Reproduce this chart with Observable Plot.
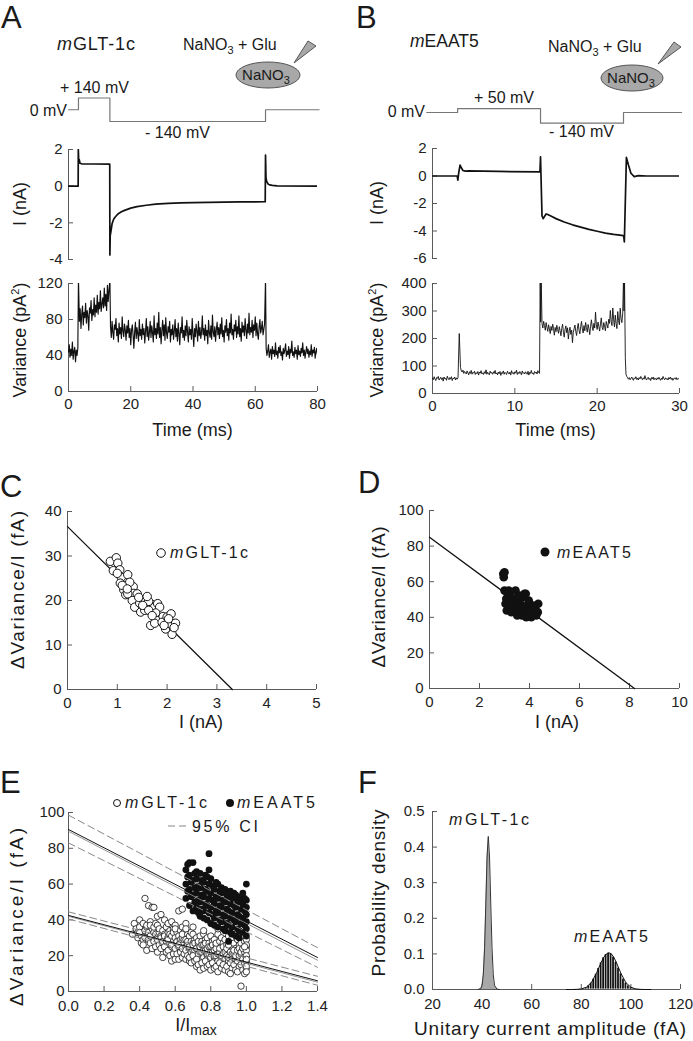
<!DOCTYPE html>
<html><head><meta charset="utf-8">
<script src="https://cdn.jsdelivr.net/npm/d3@7"></script>
<script src="https://cdn.jsdelivr.net/npm/@observablehq/plot@0.6"></script>
<style>
html,body{margin:0;padding:0;background:#fff;}
#fig{position:relative;width:693px;height:1041px;overflow:hidden;background:#fff;font-family:"Liberation Sans",Arial,Helvetica,sans-serif;}
#fig svg{position:absolute;}
</style></head><body><div id="fig"></div>
<script>
// ---------------- DATA ----------------
// Panel A: voltage protocol (ms, mV)
const aVoltT = [0, 3.2, 13.3, 63.3, 80.5];
const aVoltV = [0, 140, -140, 0, 0];
// Panel A: current trace (ms, nA)
const aCurT = [0, 3.1, 3.15, 3.3, 3.45, 3.7, 4.2, 8, 13.25, 13.3, 13.4, 13.6, 14, 14.5, 15, 16, 17, 18, 20, 22, 25, 28, 32, 36, 40, 45, 50, 55, 60, 63.2, 63.3, 63.45, 63.7, 64.1, 64.6, 65.5, 67, 80];
const aCurI = [0, 0, 2.0, 1.3, 1.45, 1.25, 1.22, 1.21, 1.2, -3.75, -2.7, -2.5, -2.05, -1.8, -1.68, -1.5, -1.4, -1.32, -1.2, -1.12, -1.04, -0.98, -0.94, -0.91, -0.9, -0.88, -0.87, -0.86, -0.86, -0.85, 1.7, 0.45, 0.25, 0.12, 0.07, 0.04, 0.02, 0];
// Panel A: variance trace (pA^2), segments sampled every 0.25 ms
const aVarDt = 0.25;
const aVarStart = [0, 3.5, 13.5, 63.5];
const aVar0 = [44, 52, 38, 47, 41, 55, 36, 45, 49, 33, 46, 40, 48];
const aVar1 = [78, 92, 70, 86, 95, 74, 88, 82, 98, 76, 90, 84, 68, 93, 87, 101, 79, 91, 85, 104, 83, 96, 88, 107, 86, 99, 92, 112, 89, 97, 104, 93, 115, 95, 108, 90, 118, 100, 112];
const aVar2 = [72, 60, 78, 66, 58, 74, 69, 81, 62, 70, 55, 76, 64, 71, 59, 83, 67, 61, 75, 68,
  57, 73, 65, 79, 60, 70, 52, 68, 74, 63, 48, 66, 77, 59, 71, 64, 56, 80, 62, 69,
  58, 75, 63, 70, 54, 67, 81, 61, 72, 57, 66, 78, 60, 73, 65, 55, 84, 63, 70, 59,
  76, 64, 88, 60, 71, 53, 68, 79, 62, 74, 57, 82, 65, 59, 72, 66, 78, 55, 69, 63,
  74, 58, 67, 80, 61, 70, 56, 76, 64, 52, 71, 65, 83, 60, 68, 57, 73, 62, 79, 66,
  55, 72, 63, 69, 58, 81, 64, 50, 70, 61, 75, 67, 56, 78, 62, 71, 59, 66, 84, 63,
  70, 57, 74, 62, 68, 53, 79, 65, 60, 73, 58, 85, 66, 61, 72, 56, 69, 77, 63, 71,
  59, 75, 64, 82, 61, 68, 55, 73, 66, 80, 62, 70, 57, 76, 65, 86, 63, 69, 58, 74,
  67, 79, 60, 72, 64, 84, 61, 70, 56, 77, 66, 73, 62, 81, 68, 59, 75, 65, 87, 63,
  71, 66, 79, 60, 74, 68, 83, 62, 76, 64, 58, 72, 80, 65, 70, 78, 63, 69, 75];
const aVar3 = [48, 40, 45, 52, 38, 44, 47, 36, 50, 42, 46, 39, 54, 41, 45, 37, 49, 43, 51, 40,
  44, 35, 48, 42, 46, 53, 39, 45, 41, 50, 37, 47, 43, 56, 40, 44, 38, 49, 42, 46,
  36, 51, 41, 45, 39, 48, 43, 54, 40, 46, 37, 44, 50, 42, 47, 38, 45, 41, 52, 39,
  46, 43, 49, 37, 44, 48, 41];
const aVarSpikeT = [3.2, 13.3, 63.3];
const aVarSpikeV = [125, 125, 125];

// Panel B: voltage protocol
const bVoltT = [-0.7, 3.05, 13.12, 23.2, 30.25];
const bVoltV = [0, 50, -140, 0, 0];
// Panel B: current trace
const bCurT = [0, 3.0, 3.08, 3.2, 3.35, 3.5, 3.7, 4.0, 4.4, 8, 13.05, 13.12, 13.3, 13.45, 13.6, 13.8, 14.0, 14.5, 15, 16, 17, 18, 19, 20, 21, 22, 23, 23.22, 23.3, 23.55, 23.8, 24.1, 24.5, 25, 26, 30];
const bCurI = [0, 0, -0.3, 0.3, 0.8, 0.6, 0.4, 0.35, 0.37, 0.33, 0.3, 1.4, -2.9, -3.1, -2.95, -2.76, -2.8, -2.95, -3.1, -3.35, -3.55, -3.72, -3.88, -4.02, -4.15, -4.25, -4.32, -4.35, -4.8, 1.35, 0.8, 0.2, -0.05, 0.03, 0, 0];
// Panel B: variance trace, segments sampled every 0.1 ms
const bVarDt = 0.1;
const bVarStart = [0, 3.4, 13.3, 23.5];
const bVar0 = [56, 50, 61, 53, 47, 58, 55, 62, 49, 54, 59, 51, 57, 45, 60, 53, 56, 48, 63, 55, 50, 58, 52, 61, 47, 56, 54, 60, 49, 57, 52, 58];
const bVar1 = [95, 82, 78, 85, 73, 80, 76, 71, 82, 75, 68, 79, 73, 84, 70, 77, 74, 81, 69, 76,
  72, 80, 67, 78, 74, 83, 71, 75, 69, 79, 73, 86, 70, 77, 72, 68, 81, 74, 76, 70,
  79, 73, 84, 71, 75, 68, 78, 72, 80, 66, 76, 73, 82, 70, 77, 74, 69, 81, 75, 71,
  78, 67, 83, 73, 76, 70, 79, 74, 85, 69, 77, 72, 80, 75, 68, 82, 73, 76, 71, 79,
  74, 70, 81, 67, 77, 73, 84, 72, 75, 69, 80, 74, 78, 71, 83, 76, 73];
const bVar2 = [255, 238, 262, 247, 230, 258, 241, 226, 250, 235, 218, 244, 229, 252, 236, 212, 240, 225, 248, 232,
  219, 243, 228, 210, 237, 252, 223, 205, 233, 246, 221, 239, 198, 227, 241, 215, 230, 185, 222, 236,
  249, 226, 211, 238, 255, 230, 217, 244, 262, 235, 220, 247, 228, 258, 240, 223, 251, 236, 214, 245,
  268, 242, 229, 255, 238, 296, 250, 233, 260, 244, 227, 253, 275, 241, 232, 258, 246, 228, 262, 249,
  238, 270, 255, 302, 262, 247, 311, 268, 242, 285, 255, 236, 298, 265, 250, 310, 272, 258, 290];
const bVar3 = [70, 62, 57, 52, 58, 50, 55, 60, 53, 48, 57, 54, 61, 51, 56, 49, 58, 53, 62, 55,
  50, 57, 52, 65, 54, 49, 56, 59, 51, 55, 47, 58, 53, 60, 50, 56, 54, 49, 57, 52,
  59, 53, 48, 56, 51, 62, 54, 50, 57, 52, 55, 49, 58, 53, 60, 51, 56, 48, 54, 57,
  52, 58, 50, 55, 53, 56];
const bVarSpikeT = [3.25, 13.08, 13.14, 13.2, 23.2, 23.26, 23.32, 23.42];
const bVarSpikeV = [218, 420, 260, 420, 420, 300, 420, 130];

// Panel C: mGLT-1c, I (nA) vs dVariance/I (fA)
const cPoints = [[0.86,28.8],[0.98,29.6],[0.92,26.7],[1.01,28.4],[1.05,26.9],[1.08,25.2],[1.21,25.8],[1.06,23.9],[1.13,22.4],[1.17,21.3],
  [1.32,23.1],[1.33,21.6],[1.30,20.0],[1.40,21.5],[1.35,18.5],[1.45,19.4],[1.47,17.4],[1.57,20.0],[1.60,18.9],[1.55,17.8],
  [1.70,19.1],[1.63,19.8],[1.75,18.5],[1.81,19.3],[1.85,18.5],[1.77,17.2],[1.80,15.5],[1.67,14.4],[1.75,14.9],[1.92,16.4],
  [1.90,15.1],[2.00,16.3],[2.08,17.0],[1.97,13.6],[2.05,14.8],[2.10,12.4],[2.17,14.9],[2.14,13.9],[1.25,24.1],[1.21,21.5],
  [1.43,20.7],[1.51,18.9],[1.63,17.8],[1.00,26.1],[1.10,23.4],[1.20,22.6],[1.94,14.4],[2.03,15.9],[1.60,20.9],[1.70,16.6]];
const cFitI = [0, 3.31];
const cFitV = [36.6, 0];

// Panel D: mEAAT5
const dPoints = [[2.95,64.4],[2.97,62.5],[3.00,65.3],[3.00,55.0],[3.07,50.4],[3.04,47.6],[3.09,43.8],[3.17,55.0],[3.13,51.3],[3.20,53.2],
  [3.33,47.6],[3.27,42.9],[3.37,50.4],[3.44,55.0],[3.51,49.4],[3.57,45.7],[3.47,42.9],[3.63,47.6],[3.76,51.3],[3.80,43.8],
  [3.70,41.0],[3.90,46.6],[3.97,49.4],[3.85,53.2],[4.11,42.0],[4.07,40.0],[4.20,44.8],[4.33,42.9],[4.35,47.6],[4.27,41.0],
  [3.80,53.2],[3.60,52.2],[3.17,46.6],[3.33,43.8],[3.51,41.0],[3.87,40.0],[4.00,42.9],[4.15,46.6],[3.47,46.6],[3.70,44.8]];
const dFitI = [0, 8.2];
const dFitV = [85, 0];

// Panel E: normalized data, I/Imax vs dVariance/I (fA)
const eGlt = [[0.36,32],[0.37,38],[0.38,35],[0.39,30],[0.39,33],
  [0.40,40],[0.40,36],[0.41,31],[0.41,27],[0.40,33],[0.42,29],
  [0.42,38],[0.43,34],[0.43,30],[0.42,26],[0.44,36],[0.43,52],
  [0.44,37],[0.45,33],[0.45,29],[0.44,23],[0.46,31],[0.45,48],
  [0.46,39],[0.47,35],[0.46,27],[0.47,24],[0.47,47],[0.48,33],[0.46,37],
  [0.48,36],[0.49,32],[0.48,28],[0.49,25],[0.48,47],[0.50,30],[0.49,38],
  [0.50,37],[0.51,33],[0.50,29],[0.51,26],[0.50,22],[0.52,31],[0.51,35],[0.50,42],
  [0.52,43],[0.53,34],[0.52,30],[0.53,27],[0.52,24],[0.53,19],[0.54,32],[0.53,28],
  [0.54,40],[0.55,36],[0.54,31],[0.55,28],[0.54,25],[0.55,22],[0.56,33],
  [0.56,38],[0.57,34],[0.56,30],[0.57,27],[0.56,23],[0.57,20],[0.58,17],[0.57,32],[0.56,29],
  [0.58,39],[0.59,35],[0.58,31],[0.59,28],[0.58,25],[0.59,21],[0.60,18],[0.59,33],[0.58,26],
  [0.60,37],[0.61,33],[0.60,30],[0.61,27],[0.60,24],[0.61,21],[0.62,18],[0.61,28],[0.60,35],
  [0.62,45],[0.63,34],[0.62,31],[0.63,28],[0.62,25],[0.63,22],[0.64,19],[0.63,29],[0.62,26],[0.64,36],
  [0.64,46],[0.65,33],[0.64,30],[0.65,27],[0.64,24],[0.65,21],[0.66,18],[0.65,29],[0.66,25],[0.64,32],
  [0.66,38],[0.67,32],[0.66,29],[0.67,26],[0.66,23],[0.67,20],[0.68,17],[0.67,28],[0.68,24],[0.66,35],
  [0.68,31],[0.69,28],[0.68,25],[0.69,22],[0.68,19],[0.69,16],[0.70,27],[0.69,33],[0.70,23],
  [0.70,32],[0.71,29],[0.70,26],[0.71,23],[0.70,20],[0.71,17],[0.72,14],[0.71,27],[0.72,24],[0.70,36],
  [0.72,30],[0.73,27],[0.72,24],[0.73,21],[0.72,18],[0.73,15],[0.74,12],[0.73,28],[0.74,25],[0.74,22],
  [0.74,31],[0.75,28],[0.74,25],[0.75,22],[0.76,19],[0.75,16],[0.76,13],[0.75,26],[0.76,23],
  [0.76,32],[0.77,29],[0.76,26],[0.77,23],[0.78,20],[0.77,17],[0.78,14],[0.77,27],[0.78,21],[0.76,34],
  [0.78,30],[0.79,27],[0.78,24],[0.79,21],[0.80,18],[0.79,15],[0.80,12],[0.79,25],[0.80,22],[0.80,19],
  [0.80,31],[0.81,28],[0.80,25],[0.81,22],[0.82,19],[0.81,16],[0.82,13],[0.81,26],[0.82,23],[0.82,20],
  [0.82,29],[0.83,26],[0.84,23],[0.83,20],[0.84,17],[0.83,14],[0.84,11],[0.83,24],[0.84,21],[0.83,27],
  [0.84,32],[0.85,28],[0.86,25],[0.85,22],[0.86,19],[0.85,16],[0.86,13],[0.85,24],[0.86,20],[0.84,35],
  [0.86,30],[0.87,27],[0.88,24],[0.87,21],[0.88,18],[0.87,15],[0.88,12],[0.87,25],[0.88,22],
  [0.88,29],[0.89,26],[0.90,23],[0.89,20],[0.90,17],[0.89,14],[0.90,11],[0.89,24],[0.90,19],
  [0.90,31],[0.91,28],[0.92,25],[0.91,22],[0.92,19],[0.91,16],[0.92,13],[0.91,10],[0.92,21],[0.90,26],
  [0.92,30],[0.93,27],[0.94,24],[0.93,21],[0.94,18],[0.93,15],[0.94,12],[0.93,23],[0.94,20],
  [0.94,32],[0.95,29],[0.96,26],[0.95,23],[0.96,20],[0.95,17],[0.96,14],[0.95,11],[0.96,24],
  [0.96,30],[0.97,27],[0.98,24],[0.97,21],[0.98,18],[0.97,15],[0.98,12],[0.97,22],[0.97,3],
  [0.98,31],[0.99,28],[1.00,25],[0.99,22],[1.00,19],[0.99,16],[1.00,13],[0.99,10],[0.98,24],
  [1.00,29],[1.00,26],[1.00,23],[1.00,20],[1.00,17],[1.00,14],[1.00,11],[0.99,25],[1.00,18]];
const eEaat = [[0.66,52],[0.67,56],[0.66,60],[0.67,64],[0.66,68],[0.67,71],[0.68,72],
  [0.68,48],[0.69,53],[0.68,57],[0.69,61],[0.68,65],[0.70,72],
  [0.70,45],[0.71,50],[0.70,54],[0.71,58],[0.70,62],[0.71,66],
  [0.72,47],[0.73,51],[0.72,55],[0.73,59],[0.72,63],[0.73,44],[0.72,67],
  [0.74,42],[0.75,46],[0.74,50],[0.75,54],[0.74,58],[0.75,62],[0.74,66],
  [0.76,45],[0.77,49],[0.76,53],[0.77,57],[0.76,61],[0.77,65],[0.76,41],
  [0.78,40],[0.79,44],[0.78,48],[0.79,52],[0.78,56],[0.79,60],[0.78,64],[0.79,68],
  [0.80,38],[0.81,43],[0.80,47],[0.81,51],[0.80,55],[0.81,59],[0.80,63],[0.79,77],
  [0.82,41],[0.83,45],[0.82,49],[0.83,53],[0.82,57],[0.83,61],[0.82,37],
  [0.84,36],[0.85,40],[0.84,44],[0.85,48],[0.84,52],[0.85,56],[0.84,60],
  [0.86,39],[0.87,43],[0.86,47],[0.87,51],[0.86,55],[0.87,35],[0.86,58],
  [0.88,34],[0.89,38],[0.88,42],[0.89,46],[0.88,50],[0.89,54],[0.88,57],
  [0.90,28],[0.91,33],[0.90,37],[0.91,41],[0.90,45],[0.91,49],[0.90,53],[0.91,56],
  [0.92,36],[0.93,40],[0.92,44],[0.93,48],[0.92,52],[0.93,55],[0.92,32],
  [0.94,31],[0.95,35],[0.94,39],[0.95,43],[0.94,47],[0.95,51],[0.94,54],
  [0.96,34],[0.97,38],[0.96,42],[0.97,46],[0.96,50],[0.97,53],[0.96,30],
  [0.98,33],[0.99,37],[0.98,41],[0.99,45],[0.98,49],[0.99,52],[0.98,55],
  [1.00,31],[1.00,35],[1.00,39],[1.00,43],[1.00,47],[1.00,51],[1.00,60]];
const eLineX = [0, 1.4];
const eEaatFit = [90.5, 19];
const eEaatFit2 = [89.5, 17.5];
const eEaatHi = [98.5, 24.5];
const eEaatLo = [83, 13.5];
const eGltFit = [42.5, 6];
const eGltFit2 = [42, 5.2];
const eGltHi = [44.5, 8.5];
const eGltLo = [40.5, 3.5];

// Panel F: probability density of unitary current amplitude (fA)
const fGltX = [38.5, 39.5, 40, 40.5, 41, 41.5, 42, 42.5, 43, 43.5, 44, 44.5, 45, 46, 47];
const fGltY = [0, 0.003, 0.012, 0.043, 0.117, 0.24, 0.372, 0.43, 0.372, 0.24, 0.117, 0.043, 0.012, 0.001, 0];
const fEaatBin = [79, 80, 81, 82, 83, 84, 85, 86, 87, 88, 89, 90, 91, 92, 93, 94, 95, 96, 97, 98, 99, 100, 101, 102, 103];
const fEaatHist = [0.001, 0.002, 0.003, 0.006, 0.011, 0.019, 0.030, 0.044, 0.060, 0.076, 0.090, 0.099, 0.103, 0.101, 0.092, 0.078, 0.061, 0.045, 0.030, 0.019, 0.011, 0.006, 0.003, 0.0015, 0.0007];
const fEaatCurveX = [74, 76, 78, 80, 82, 84, 86, 88, 89, 90, 91, 92, 93, 94, 96, 98, 100, 102, 104, 106, 108];
const fEaatCurveY = [0, 0, 0.0003, 0.0016, 0.0063, 0.019, 0.044, 0.076, 0.090, 0.099, 0.103, 0.101, 0.092, 0.078, 0.045, 0.019, 0.0063, 0.0016, 0.0003, 0, 0];

// Tick values
const aITicks = [-4, -2, 0, 2], aVarTicks = [0, 40, 80, 120], aTimeTicks = [0, 20, 40, 60, 80];
const bITicks = [-6, -4, -2, 0, 2], bVarTicks = [0, 100, 200, 300, 400], bTimeTicks = [0, 10, 20, 30];
const cXTicks = [0, 1, 2, 3, 4, 5], cYTicks = [0, 10, 20, 30, 40];
const dXTicks = [0, 2, 4, 6, 8, 10], dYTicks = [0, 20, 40, 60, 80, 100];
const eXTicks = [0, 0.2, 0.4, 0.6, 0.8, 1.0, 1.2, 1.4], eYTicks = [0, 20, 40, 60, 80, 100];
const fXTicks = [20, 40, 60, 80, 100, 120], fYTicks = [0, 0.1, 0.2, 0.3, 0.4, 0.5];

// ---------------- HELPERS ----------------
const fig = document.getElementById("fig");
const FONT = '"Liberation Sans", Arial, Helvetica, sans-serif';
const AX = "#5a5a5a";
const INK = "#111";
const zip = (xs, ys) => xs.map((x, i) => ({x, y: ys[i]}));
const pairs = (arr) => arr.map(([x, y]) => ({x, y}));
function trace(starts, dt, segs, spikeT, spikeV) {
  const pts = [];
  segs.forEach((seg, k) => seg.forEach((v, i) => pts.push({x: starts[k] + i * dt, y: v})));
  spikeT.forEach((t, i) => pts.push({x: t, y: spikeV[i]}));
  return pts.sort((a, b) => a.x - b.x);
}
const hy = (d) => String(d);

function panel(o) {
  const fw = o.width - o.ml - o.mr, fh = o.height - o.mt - o.mb;
  const axes = [];
  if (o.yTicks) {
    axes.push(Plot.ruleX([o.xDomain[0]], {stroke: AX, strokeWidth: 1}));
    axes.push(Plot.tickY(o.yTicks, {stroke: AX, insetRight: fw - 5}));
    axes.push(Plot.axisY({ticks: o.yTicks, tickSize: 0, tickPadding: o.yPad ?? 6, tickFormat: o.yFmt ?? hy, label: null, fontSize: 15}));
  }
  if (o.xTicks) {
    axes.push(Plot.ruleY([o.yDomain[0]], {stroke: AX, strokeWidth: 1}));
    axes.push(Plot.tickX(o.xTicks, {stroke: AX, insetTop: fh - 5}));
    axes.push(Plot.axisX({ticks: o.xTicks, tickSize: 0, tickPadding: o.xPad ?? 7, tickFormat: o.xFmt ?? hy, label: null, fontSize: 15}));
  }
  const svg = Plot.plot({
    width: o.width, height: o.height,
    marginTop: o.mt, marginRight: o.mr, marginBottom: o.mb, marginLeft: o.ml,
    x: {domain: o.xDomain, axis: null},
    y: {domain: o.yDomain, axis: null},
    style: {fontFamily: FONT, color: "#222", background: "transparent", overflow: "visible"},
    marks: [...axes, ...o.marks]
  });
  svg.style.left = o.left + "px";
  svg.style.top = o.top + "px";
  fig.append(svg);
}

// ---------------- PANEL A ----------------
panel({left: 0, top: 75, width: 330, height: 65, ml: 68, mr: 13, mt: 22.5, mb: 19,
  xDomain: [0, 80], yDomain: [-140, 140],
  marks: [Plot.line(zip(aVoltT, aVoltV), {x: "x", y: "y", curve: "step-after", stroke: "#777", strokeWidth: 1.2})]});
panel({left: 0, top: 135, width: 330, height: 130, ml: 68, mr: 13, mt: 14, mb: 6,
  xDomain: [0, 80], yDomain: [-4, 2], yTicks: aITicks,
  marks: [Plot.line(zip(aCurT, aCurI), {x: "x", y: "y", stroke: INK, strokeWidth: 1.7, clip: true})]});
panel({left: 0, top: 270, width: 330, height: 146, ml: 68, mr: 13, mt: 13, mb: 25,
  xDomain: [0, 80], yDomain: [0, 120], yTicks: aVarTicks, xTicks: aTimeTicks,
  marks: [Plot.line(trace(aVarStart, aVarDt, [aVar0, aVar1, aVar2, aVar3], aVarSpikeT, aVarSpikeV), {x: "x", y: "y", stroke: INK, strokeWidth: 1.15, clip: true})]});

// ---------------- PANEL B ----------------
panel({left: 346, top: 75, width: 347, height: 65, ml: 86, mr: 14, mt: 26.3, mb: 17.3,
  xDomain: [0, 30], yDomain: [-140, 140],
  marks: [Plot.line(zip(bVoltT, bVoltV), {x: "x", y: "y", curve: "step-after", stroke: "#777", strokeWidth: 1.2})]});
panel({left: 346, top: 135, width: 347, height: 130, ml: 86, mr: 14, mt: 13, mb: 7,
  xDomain: [0, 30], yDomain: [-6, 2], yTicks: bITicks,
  marks: [Plot.line(zip(bCurT, bCurI), {x: "x", y: "y", stroke: INK, strokeWidth: 1.7, clip: true})]});
panel({left: 346, top: 270, width: 347, height: 148, ml: 86, mr: 14, mt: 13, mb: 25,
  xDomain: [0, 30], yDomain: [0, 400], yTicks: bVarTicks, xTicks: bTimeTicks,
  marks: [Plot.line(trace(bVarStart, bVarDt, [bVar0, bVar1, bVar2, bVar3], bVarSpikeT, bVarSpikeV), {x: "x", y: "y", stroke: INK, strokeWidth: 0.9, clip: true})]});

// ---------------- PANEL C ----------------
panel({left: 0, top: 495, width: 330, height: 219, ml: 67, mr: 14, mt: 16, mb: 25, xPad: 8,
  xDomain: [0, 5], yDomain: [0, 40], xTicks: cXTicks, yTicks: cYTicks,
  marks: [
    Plot.line(zip(cFitI, cFitV), {x: "x", y: "y", stroke: INK, strokeWidth: 1.3}),
    Plot.dot(pairs(cPoints), {x: "x", y: "y", r: 4.2, fill: "white", stroke: INK, strokeWidth: 1})
  ]});

// ---------------- PANEL D ----------------
panel({left: 346, top: 495, width: 347, height: 218, ml: 83, mr: 14, mt: 15, mb: 25, xPad: 8,
  xDomain: [0, 10], yDomain: [0, 100], xTicks: dXTicks, yTicks: dYTicks,
  marks: [
    Plot.line(zip(dFitI, dFitV), {x: "x", y: "y", stroke: INK, strokeWidth: 1.3}),
    Plot.dot(pairs(dPoints), {x: "x", y: "y", r: 4.3, fill: INK})
  ]});

// ---------------- PANEL E ----------------
const dash = {stroke: "#888", strokeWidth: 1, strokeDasharray: "7,4"};
panel({left: 0, top: 780, width: 330, height: 236, ml: 68, mr: 13, mt: 32, mb: 25, xPad: 9,
  xDomain: [0, 1.4], yDomain: [0, 100], xTicks: eXTicks, yTicks: eYTicks, xFmt: d3.format(".1f"), yPad: 4,
  marks: [
    Plot.dot(pairs(eGlt), {x: "x", y: "y", r: 3.2, fill: "white", stroke: INK, strokeWidth: 0.8}),
    Plot.dot(pairs(eEaat), {x: "x", y: "y", r: 3.4, fill: INK}),
    Plot.line(zip(eLineX, eGltHi), {x: "x", y: "y", ...dash}),
    Plot.line(zip(eLineX, eGltLo), {x: "x", y: "y", ...dash}),
    Plot.line(zip(eLineX, eGltFit2), {x: "x", y: "y", stroke: "#888", strokeWidth: 0.9}),
    Plot.line(zip(eLineX, eGltFit), {x: "x", y: "y", stroke: INK, strokeWidth: 1}),
    Plot.line(zip(eLineX, eEaatHi), {x: "x", y: "y", ...dash}),
    Plot.line(zip(eLineX, eEaatLo), {x: "x", y: "y", ...dash}),
    Plot.line(zip(eLineX, eEaatFit2), {x: "x", y: "y", stroke: "#888", strokeWidth: 0.9}),
    Plot.line(zip(eLineX, eEaatFit), {x: "x", y: "y", stroke: INK, strokeWidth: 1})
  ]});

// ---------------- PANEL F ----------------
panel({left: 346, top: 780, width: 346, height: 234, ml: 86, mr: 12, mt: 31, mb: 25, xPad: 9,
  xDomain: [20, 120], yDomain: [0, 0.5], xTicks: fXTicks, yTicks: fYTicks, xFmt: d3.format(".0f"), yFmt: d3.format(".1f"), yPad: 8,
  marks: [
    Plot.areaY(zip(fGltX, fGltY), {x: "x", y: "y", fill: "#a8a8a8"}),
    Plot.line(zip(fGltX, fGltY), {x: "x", y: "y", stroke: "#333", strokeWidth: 1}),
    Plot.rectY(fEaatBin.map((c, i) => ({x1: c - 0.5, x2: c + 0.5, y: fEaatHist[i]})), {x1: "x1", x2: "x2", y: "y", fill: INK, inset: 0.35}),
    Plot.line(zip(fEaatCurveX, fEaatCurveY), {x: "x", y: "y", stroke: INK, strokeWidth: 1})
  ]});

// ---------------- ANNOTATIONS (text, legends, schematic) ----------------
const it = (s) => `<tspan font-style="italic">${s}</tspan>`;
const sub3 = `<tspan dy="4" font-size="11">3</tspan>`;
const vlab = (cx, cy, content, size, len) =>
  `<text transform="translate(${cx},${cy}) rotate(-90)" text-anchor="middle" dy="0.36em" font-size="${size}"${len ? ` textLength="${len}" lengthAdjust="spacing"` : ""}>${content}</text>`;
const varLab = `Variance (pA<tspan dy="-7" font-size="11">2</tspan><tspan dy="7">)</tspan>`;
fig.insertAdjacentHTML("beforeend", `
<svg width="693" height="1041" style="left:0;top:0;pointer-events:none" font-family='${FONT}' fill="#1a1a1a">
  <text x="1" y="28" font-size="31">A</text>
  <text x="356" y="28" font-size="31">B</text>
  <text x="0" y="497" font-size="31">C</text>
  <text x="358" y="493" font-size="31">D</text>
  <text x="0" y="793" font-size="31">E</text>
  <text x="358" y="793" font-size="31">F</text>

  <text x="57" y="50" font-size="18" textLength="78" lengthAdjust="spacing">${it("m")}GLT-1c</text>
  <text x="183" y="50" font-size="16">NaNO${sub3}<tspan dy="-4"> + Glu</tspan></text>
  <polygon points="294,63 308,41 316,46" fill="#a8a8a8" stroke="#555" stroke-width="1"/>
  <ellipse cx="268" cy="75" rx="32" ry="13" fill="#a8a8a8" stroke="#555" stroke-width="1"/>
  <text x="266" y="80" font-size="15" text-anchor="middle">NaNO${sub3}</text>
  <text x="67" y="116" font-size="16" text-anchor="end">0 mV</text>
  <text x="60" y="93" font-size="16">+ 140 mV</text>
  <text x="145" y="138" font-size="16">- 140 mV</text>

  <text x="410" y="47" font-size="17.5">${it("m")}EAAT5</text>
  <text x="548" y="52" font-size="16">NaNO${sub3}<tspan dy="-4"> + Glu</tspan></text>
  <polygon points="658,64 674,42 681,47" fill="#a8a8a8" stroke="#555" stroke-width="1"/>
  <ellipse cx="632" cy="78" rx="31" ry="13" fill="#a8a8a8" stroke="#555" stroke-width="1"/>
  <text x="631" y="83" font-size="15" text-anchor="middle">NaNO${sub3}</text>
  <text x="425" y="117" font-size="16" text-anchor="end">0 mV</text>
  <text x="474" y="103" font-size="16">+ 50 mV</text>
  <text x="549" y="137" font-size="16">- 140 mV</text>

  ${vlab(19.5, 204, "I (nA)", 18)}
  ${vlab(19.5, 340, varLab, 18)}
  ${vlab(377, 203, "I (nA)", 18)}
  ${vlab(377, 340, varLab, 18)}
  <text x="192.5" y="436" font-size="18" text-anchor="middle">Time (ms)</text>
  <text x="555.5" y="436" font-size="18" text-anchor="middle">Time (ms)</text>

  ${vlab(17.5, 590, "ΔVariance/I (fA)", 19, 158)}
  ${vlab(378, 597, "ΔVariance/I (fA)", 19, 141)}
  <text x="201" y="728" font-size="18" text-anchor="middle">I (nA)</text>
  <text x="557" y="728" font-size="18" text-anchor="middle">I (nA)</text>
  <circle cx="161" cy="553" r="4.3" fill="white" stroke="#111" stroke-width="1"/>
  <text x="170" y="558" font-size="16" textLength="78" lengthAdjust="spacing">${it("m")}GLT-1c</text>
  <circle cx="545" cy="552" r="4.5" fill="#111"/>
  <text x="557" y="558" font-size="16" textLength="74" lengthAdjust="spacing">${it("m")}EAAT5</text>

  ${vlab(16, 917, "ΔVariance/I (fA)", 19, 178)}
  <text x="196" y="1031" font-size="18" text-anchor="middle">I/I<tspan dy="4" font-size="14">max</tspan></text>
  <circle cx="117" cy="803" r="3.5" fill="white" stroke="#111" stroke-width="1"/>
  <text x="125" y="808" font-size="16" textLength="82" lengthAdjust="spacing">${it("m")}GLT-1c</text>
  <circle cx="230" cy="803" r="4" fill="#111"/>
  <text x="237" y="808" font-size="16" textLength="78" lengthAdjust="spacing">${it("m")}EAAT5</text>
  <line x1="168" y1="826" x2="188" y2="826" stroke="#888" stroke-width="1.2" stroke-dasharray="7,4"/>
  <text x="192" y="832" font-size="16" textLength="66" lengthAdjust="spacing">95% CI</text>

  ${vlab(378, 893, "Probability density", 19, 167)}
  <text x="550" y="1035" font-size="19" text-anchor="middle" textLength="272" lengthAdjust="spacing">Unitary current amplitude (fA)</text>
  <text x="449" y="825" font-size="16" textLength="80" lengthAdjust="spacing">${it("m")}GLT-1c</text>
  <text x="574" y="942" font-size="16" textLength="74" lengthAdjust="spacing">${it("m")}EAAT5</text>
</svg>`);
</script></body></html>
